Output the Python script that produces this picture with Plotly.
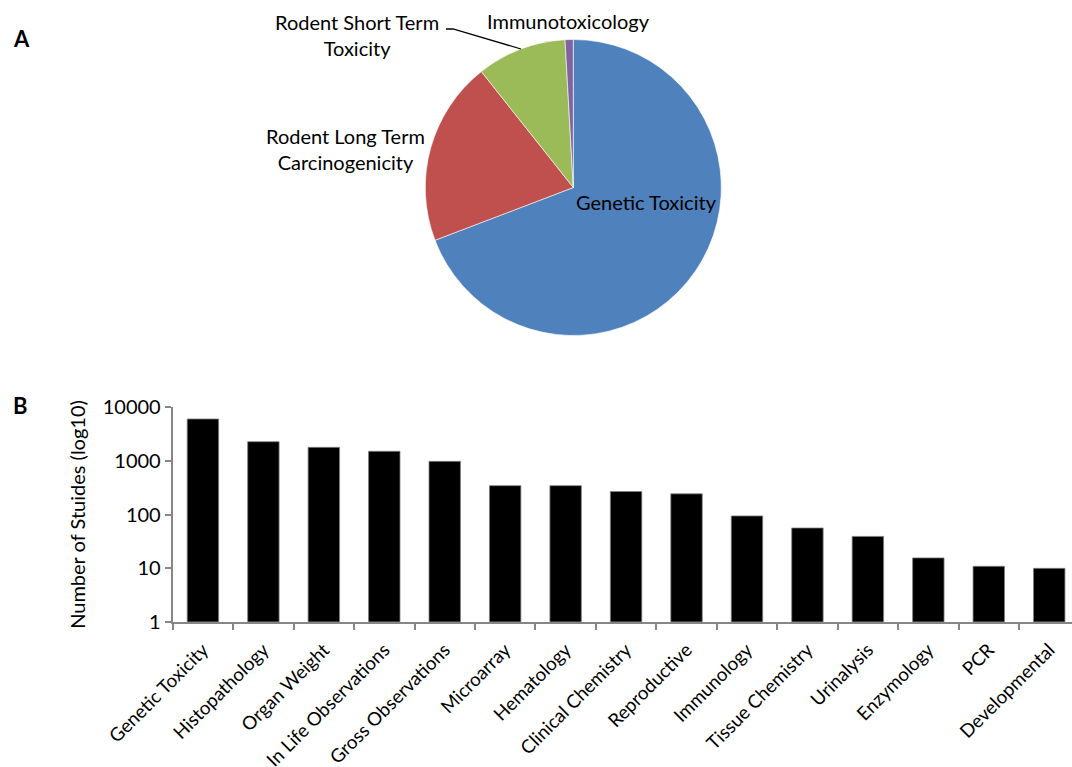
import plotly.graph_objects as go

W, H = 1072, 767

# ---- data ----
pie_labels = ["Genetic Toxicity", "Rodent Long Term Carcinogenicity",
              "Rodent Short Term Toxicity", "Immunotoxicology"]
pie_values = [6050, 1760, 855, 78]
pie_colors = ["#4F81BD", "#C0504D", "#9BBB59", "#8064A2"]

bar_categories = ["Genetic Toxicity", "Histopathology", "Organ Weight",
                  "In Life Observations", "Gross Observations", "Microarray",
                  "Hematology", "Clinical Chemistry", "Reproductive",
                  "Immunology", "Tissue Chemistry", "Urinalysis",
                  "Enzymology", "PCR", "Developmental"]
bar_values = [6050, 2280, 1790, 1510, 980, 345, 345, 268, 243, 94, 56, 39,
              15.5, 10.8, 9.9]
y_tickvals = [1, 10, 100, 1000, 10000]
y_ticktext = ["1", "10", "100", "1000", "10000"]

FONT = "Lato"
FS = 20
GREY = "#868686"


def px(x):
    return x / W


def py(y):
    return 1 - y / H


fig = go.Figure()

# pie (panel A)
cx, cy, r = 573.3, 187.5, 148
fig.add_trace(go.Pie(
    labels=pie_labels, values=pie_values, sort=False, direction="clockwise",
    rotation=0, textinfo="none", hoverinfo="label+value",
    marker=dict(colors=pie_colors, line=dict(color="white", width=0.6)),
    domain=dict(x=[px(cx - r), px(cx + r)], y=[py(cy + r), py(cy - r)]),
    showlegend=False,
))

# bars (panel B)
fig.add_trace(go.Bar(
    x=bar_categories, y=bar_values,
    marker=dict(color="black", line=dict(color="#7f7f7f", width=0.8)),
    width=0.52, showlegend=False, xaxis="x", yaxis="y",
))

x0 = 172.7
step = 60.45
fig.update_layout(
    width=W, height=H,
    margin=dict(l=0, r=0, t=0, b=0, autoexpand=False),
    paper_bgcolor="white", plot_bgcolor="white",
    font=dict(family=FONT, size=FS, color="black"),
    xaxis=dict(
        domain=[px(x0), 1], range=[-0.5, -0.5 + (W - x0) / step],
        type="category", tickangle=-45, tickson="boundaries",
        ticks="outside", ticklen=6, tickcolor=GREY, tickwidth=1.5,
        ticklabelstandoff=8,
        showline=True, linecolor=GREY, linewidth=2, showgrid=False,
        anchor="y", tickfont=dict(family=FONT, size=18.7),
        fixedrange=True, automargin=False,
    ),
    yaxis=dict(
        domain=[py(621.7), py(407.3)], type="log", range=[0, 4],
        tickvals=y_tickvals, ticktext=y_ticktext,
        ticks="outside", ticklen=6, tickcolor=GREY, tickwidth=1.5,
        showline=True, linecolor=GREY, linewidth=2, showgrid=False,
        anchor="x", tickfont=dict(family=FONT, size=FS),
        title=dict(text="Number of Stuides (log10)",
                   font=dict(family=FONT, size=FS), standoff=12),
        fixedrange=True, automargin=False,
    ),
)

ann = [
    dict(text="<b>A</b>", x=px(11), y=py(39), xanchor="left", yanchor="middle",
         font=dict(family=FONT, size=22, color="black")),
    dict(text="<b>B</b>", x=px(11), y=py(405), xanchor="left", yanchor="middle",
         font=dict(family=FONT, size=22, color="black")),
    dict(text="Genetic Toxicity", x=px(574), y=py(202), xanchor="left", yanchor="middle"),
    dict(text="Rodent Long Term<br>Carcinogenicity", x=px(345), y=py(149),
         xanchor="center", yanchor="middle", align="center"),
    dict(text="Rodent Short Term<br>Toxicity", x=px(357), y=py(35),
         xanchor="center", yanchor="middle", align="center"),
    dict(text="Immunotoxicology", x=px(568), y=py(21), xanchor="center", yanchor="middle"),
]
for a in ann:
    a.setdefault("font", dict(family=FONT, size=FS, color="black"))
    a.update(xref="paper", yref="paper", showarrow=False)
fig.update_layout(annotations=ann)

# leader line for "Rodent Short Term Toxicity"
fig.add_shape(type="path", xref="paper", yref="paper",
              path=f"M {px(446)},{py(29)} L {px(453)},{py(29)} L {px(521)},{py(49)}",
              line=dict(color="black", width=1.3))

fig.write_html("out.html")
